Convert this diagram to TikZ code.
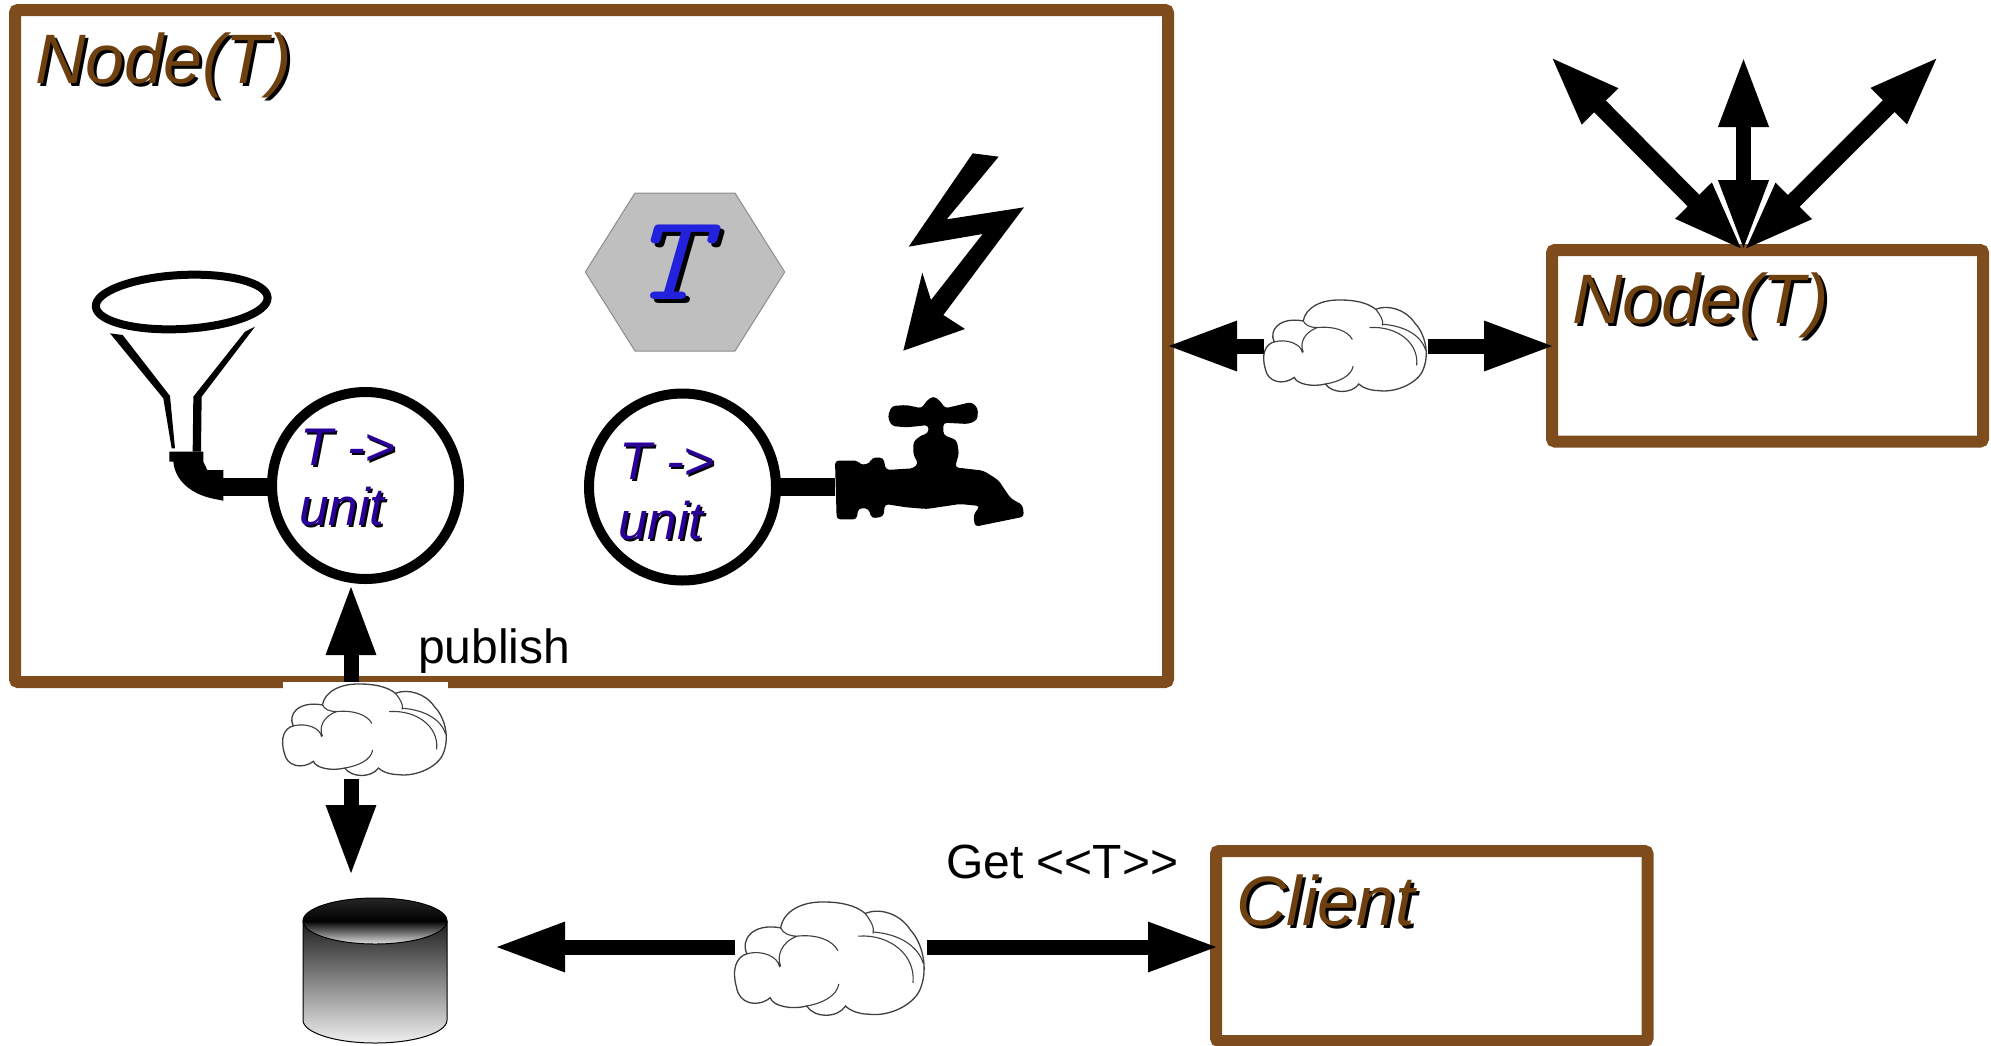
\documentclass[tikz,border=0pt]{standalone}
\usepackage{fontspec}
\setmainfont{Liberation Sans}
\usetikzlibrary{arrows.meta,shapes.geometric}
\definecolor{boxbrown}{HTML}{7F4C1E}
\definecolor{textbrown}{HTML}{6E3F0F}
\definecolor{unitblue}{HTML}{2A0099}
\definecolor{hexblue}{HTML}{2222DD}
\definecolor{hexgrey}{HTML}{BFBFBF}
\newcommand\shadowed[3]{\makebox[0pt][l]{\kern#2\raisebox{-#2}{\textcolor{black}{#3}}}\textcolor{#1}{#3}}
\tikzset{
  framebox/.style={draw=boxbrown,line width=12pt,rounded corners=3pt,inner sep=0pt,outer sep=0pt},
  title/.style={anchor=base west,inner sep=0pt,font=\fontsize{70}{70}\selectfont\itshape},
  lbl/.style={anchor=base west,inner sep=0pt,font=\fontsize{48}{48}\selectfont},
  unitcircle/.style={circle,draw=black,line width=10pt,fill=white,minimum size=187pt,inner sep=0pt,outer sep=0pt},
  unittext/.style={anchor=base west,inner sep=0pt,align=left,font=\fontsize{53}{60}\selectfont\itshape},
  cloudarea/.style={rectangle,inner sep=0pt,outer sep=0pt},
  bigarrow/.style={line width=15pt,-{Triangle[length=71pt,width=46pt]}},
  bothways/.style={line width=#1,{Triangle[length=71pt,width=46pt]}-{Triangle[length=71pt,width=46pt]}},
  pipe/.style={line width=18pt},
  netcloud/.pic={
    \draw[fill=white,draw=black!75,line width=1.3pt]
      (140,135) .. controls (145,95) and (180,70) .. (225,72)
      .. controls (255,72) and (285,80) .. (303,100)
      .. controls (330,85) and (370,100) .. (390,140)
      .. controls (412,170) and (425,230) .. (410,280)
      .. controls (400,320) and (350,352) .. (310,345)
      .. controls (290,345) and (272,335) .. (265,325)
      .. controls (250,355) and (205,355) .. (190,325)
      .. controls (160,335) and (125,325) .. (120,305)
      .. controls (95,330) and (60,320) .. (55,280)
      .. controls (45,235) and (55,205) .. (75,198)
      .. controls (62,165) and (85,122) .. (140,135) -- cycle;
    \draw[draw=black!75,line width=1.1pt,line cap=round]
      (303,100) .. controls (312,115) and (322,135) .. (318,148)
      (290,155) .. controls (350,150) and (400,200) .. (395,268)
      (318,145) .. controls (370,150) and (405,180) .. (415,222)
      (140,135) .. controls (145,148) and (155,155) .. (172,155)
      (172,155) .. controls (210,150) and (240,165) .. (250,190)
      (172,155) .. controls (140,170) and (132,205) .. (140,228)
      (75,198) .. controls (105,188) and (135,205) .. (138,230)
      (252,272) .. controls (248,300) and (222,318) .. (190,325);
  }
}
\pgfdeclareverticalshading{dbtop}{100bp}{color(0bp)=(black!12);color(25bp)=(black!12);color(50bp)=(black);color(75bp)=(black!85);color(100bp)=(black!85)}
\pgfdeclareverticalshading{dbbody}{100bp}{color(0bp)=(black!6);color(25bp)=(black!6);color(75bp)=(black!88);color(100bp)=(black!88)}
\begin{document}
\begin{tikzpicture}[x=1pt,y=-1pt]
\useasboundingbox (0,0) rectangle (1991,1045);
% frames
\node[framebox,minimum width=1153pt,minimum height=672pt] (big) at (591.5,346) {};
\node[framebox,minimum width=431pt,minimum height=191.5pt] (peer) at (1767.5,345.75) {};
\node[framebox,minimum width=431.5pt,minimum height=190pt] (client) at (1431.75,946) {};
\node[title] (bigtitle) at (35,83) {\shadowed{textbrown}{3pt}{Node(T)}};
\node[title] (peertitle) at (1572,323) {\shadowed{textbrown}{3pt}{Node(T)}};
\node[title] (clienttitle) at (1236,925) {\shadowed{textbrown}{3pt}{Client}};
% hexagon with T
\path[fill=hexgrey,draw=black!45,line width=1pt] (635,193) -- (735,193) -- (784.7,272) -- (735,351) -- (635,351) -- (585.3,272) -- cycle;
\node[anchor=base,inner sep=0pt,xscale=1.15,transform shape,font=\fontsize{122}{122}\selectfont\ttfamily\itshape] (hexT) at (667,299) {\shadowed{hexblue}{4pt}{T}};
% lightning
\begin{scope}[shift={(560,130)},x=0.33333pt,y=-0.33333pt]
\fill[black] (1238,70) -- (1316,80) -- (1160,268) -- (1392,232) -- (1150,555) -- (1215,597) -- (1030,662) -- (1087,428) -- (1113,510) -- (1268,312) -- (1046,350) -- cycle;
\end{scope}
% unit circles
\node[unitcircle] (u1) at (365.5,485.5) {};
\node[unitcircle] (u2) at (682.5,487) {};
\node[unittext] (u1text) at (299,525) {\kern1pt\shadowed{unitblue}{2pt}{T ->}\\\shadowed{unitblue}{2pt}{unit}};
\node[unittext] (u2text) at (618,539) {\kern1pt\shadowed{unitblue}{2pt}{T ->}\\\shadowed{unitblue}{2pt}{unit}};
% funnel
\coordinate (funnelout) at (223,486.5);
\coordinate (faucetin) at (835,487);
\draw[pipe] (funnelout) -- (u1.west |- funnelout);
\draw[pipe] (u2.east) -- (faucetin);
\draw[black,line width=8pt,rotate around={3:(181.7,302)}] (181.7,302) ellipse [x radius=86pt,y radius=27pt];
\begin{scope}[shift={(0,240)},x=0.33333pt,y=-0.33333pt]
\fill[black] (330,280) -- (368,285) -- (510,468) -- (525,625) -- (515,625) -- (490,475) -- cycle;
\fill[black] (735,275) -- (765,260) -- (605,470) -- (603,635) -- (578,635) -- (580,470) -- cycle;
\fill[black] (508,635) -- (610,635) -- (610,665) -- (622,690) -- (670,690) -- (670,782) -- (635,775)
  .. controls (570,760) and (525,720) .. (520,665) -- (508,665) -- cycle;
\end{scope}
% faucet
\begin{scope}[shift={(560,130)},x=0.33333pt,y=-0.33333pt]
\fill[black,rounded corners=3.5pt]
  (825,992) -- (895,992) -- (900,1005) -- (930,1000) -- (935,983) -- (970,983) -- (978,1020) -- (1060,1015) -- (1075,1000) -- (1060,975) -- (1060,935) -- (1085,915) -- (1105,910) -- (1105,885)
  -- (1040,892) -- (995,888) -- (983,860) -- (995,828) -- (1040,825) -- (1085,835) -- (1100,812) -- (1120,798) -- (1140,812) -- (1155,835) -- (1235,816) -- (1254,835) -- (1252,870) -- (1225,882) -- (1150,878)
  -- (1150,915) -- (1190,930) -- (1197,970) -- (1185,1012) -- (1270,1022) -- (1315,1050) -- (1352,1105) -- (1388,1125) -- (1392,1160) -- (1245,1190) -- (1240,1155) -- (1260,1128) -- (1200,1122) -- (1100,1137) -- (1040,1132) -- (975,1122) -- (970,1160) -- (935,1165) -- (925,1135) -- (895,1135) -- (890,1168) -- (830,1168) -- cycle;
\end{scope}
% labels
\node[lbl] (publish) at (418,663) {publish};
\node[lbl] (getT) at (946,878) {Get <{}<T>{}>};
% arrow into the left circle, with the white patch of its cloud
\coordinate (upstart) at (351,682);
\coordinate (uptip) at (351,584);
\draw[bigarrow] (upstart) -- (uptip);
\fill[white] (283,682) rectangle (448,780);
% clouds
\node[cloudarea,minimum width=164pt,minimum height=93pt] (c1) at (365,730.5) {};
\pic[xscale=0.448,yscale=0.332] at (259.7,660.1) {netcloud};
\node[cloudarea,minimum width=190pt,minimum height=115pt] (c2) at (830,959.5) {};
\pic[xscale=0.519,yscale=0.411] at (708,872.4) {netcloud};
\node[cloudarea,minimum width=163pt,minimum height=93pt] (c3) at (1345.5,346.5) {};
\pic[xscale=0.445,yscale=0.332] at (1240.9,276.1) {netcloud};
% database
\path[shading=dbbody,draw=black,line width=1pt] (303,921) -- (303,1020) arc[start angle=180,end angle=360,x radius=72pt,y radius=23pt] -- (447,921) -- cycle;
\path[shading=dbtop,draw=black,line width=1pt] (375,921) ellipse [x radius=72pt,y radius=23pt];
\coordinate (dbtoptip) at (351,876);
\coordinate (c1out) at (351,779);
\coordinate (dbsidetip) at (494,947);
\coordinate (c2left) at (735,947);
\coordinate (c2right) at (927,947);
\coordinate (clientin) at (1219,947);
\draw[bigarrow] (c1out) -- (dbtoptip);
\draw[bigarrow] (c2left) -- (dbsidetip);
\draw[bigarrow] (c2right) -- (clientin);
% arrows either side of the right cloud
\coordinate (c3left) at (1264,346);
\coordinate (c3right) at (1428,346);
\coordinate (peerin) at (1555,346);
\coordinate (bigout) at (1166,346);
\draw[bigarrow] (c3left) -- (bigout);
\draw[bigarrow] (c3right) -- (peerin);
% fan of arrows above the right node
\coordinate (fan) at (1743.5,251);
\coordinate (fanl) at (1550,56);
\coordinate (fanc) at (1743.5,56);
\coordinate (fanr) at (1939,56);
\draw[bothways=16.5pt] (fan) -- (fanl);
\draw[bothways=16.5pt] (fan) -- (fanr);
\draw[bothways=15.5pt] (fan) -- (fanc);
\end{tikzpicture}
\end{document}
